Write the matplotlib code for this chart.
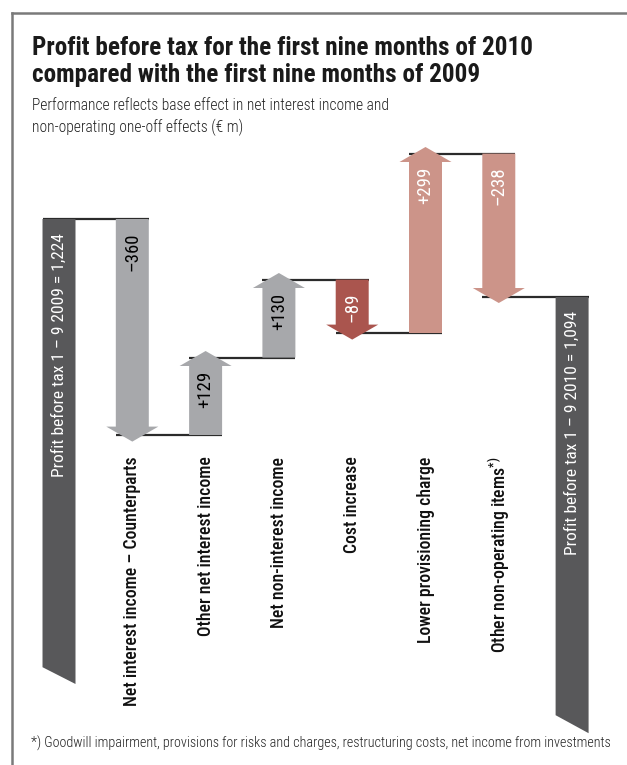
import matplotlib.pyplot as plt
from matplotlib.lines import Line2D

plt.rcParams['font.family'] = ['Roboto Condensed', 'DejaVu Sans']

# Werte in Mio. €
start_value = 1224
end_value = 1094
deltas = [-360, 129, 130, -89, 299, -238]
categories = [
    'Net interest income – Counterparts',
    'Other net interest income',
    'Net non-interest income',
    'Cost increase',
    'Lower provisioning charge',
    'Other non-operating items$^{\\mathregular{*)}}$',
]
start_label = 'Profit before tax 1 – 9 2009 = 1,224'
end_label = 'Profit before tax 1 – 9 2010 = 1,094'

c_dark = '#58585a'
c_gray = '#a7a8ab'
c_red = '#aa554e'
c_pink = '#cc9489'
arrow_colors = [c_gray, c_gray, c_gray, c_red, c_pink, c_pink]
text_colors = ['black', 'black', 'black', 'white', 'white', 'white']

fig = plt.figure(figsize=(6.27, 7.65), dpi=100)
ax = fig.add_axes([0, 0, 1, 1])
ax.set_xlim(-0.805, 7.749)
ax.set_ylim(314, 1589)
ax.set_axis_off()

w = 0.45        # Schaftbreite
hw = 0.71       # Pfeilspitze Breite
hl = 25         # Pfeilspitze Länge
over = 11       # Spitze über Zielniveau hinaus
line_kw = dict(color='#2b2b2b', lw=1.6, zorder=1, solid_capstyle='butt')


def cut_bar(x, top, bottom_left, bottom_right, label):
    ax.fill([x - w / 2, x + w / 2, x + w / 2, x - w / 2],
            [top, top, bottom_right, bottom_left], color=c_dark, lw=0, zorder=2)
    ax.text(x, top - 23, label, rotation=90, ha='center', va='top',
            color='white', fontsize=12.5, zorder=3)


def arrow(x, y0, y1, color):
    s = 1 if y1 > y0 else -1
    tip = y1 + s * over
    base = tip - s * hl
    xs = [x - w / 2, x + w / 2, x + w / 2, x + hw / 2, x, x - hw / 2, x - w / 2]
    ys = [y0, y0, base, base, tip, base, base]
    ax.fill(xs, ys, color=color, lw=0, zorder=2)


# Anfangswert (Balken unten abgeschnitten)
cut_bar(0, start_value, 477, 449, start_label)

level = start_value
for i, d in enumerate(deltas):
    x = i + 1
    new = level + d
    # Verbindungslinie vom vorherigen Balken
    ax.plot([x - 1 - w / 2, x + w / 2], [level, level], **line_kw)
    arrow(x, level, new, arrow_colors[i])
    txt = f'+{d}' if d > 0 else f'–{abs(d)}'
    ax.text(x, max(level, new) - 22, txt, rotation=90, ha='center', va='top',
            color=text_colors[i], fontsize=13.5, zorder=3)
    ax.text(x, 828, categories[i], rotation=90, ha='center', va='top',
            color='#111111', fontsize=12.8, fontweight='medium')
    level = new

n = len(deltas) + 1
ax.plot([n - 1 - w / 2, n + w / 2], [end_value, end_value], **line_kw)
cut_bar(n, end_value, 397, 367, end_label)

# Titel und Untertitel
fig.text(32 / 627, 1 - 55 / 765, 'Profit before tax for the first nine months of 2010',
         fontsize=18.2, fontweight='bold', color='#1a1a1a', va='baseline')
fig.text(32 / 627, 1 - 82 / 765, 'compared with the first nine months of 2009',
         fontsize=18.2, fontweight='bold', color='#1a1a1a', va='baseline')
fig.text(32 / 627, 1 - 110 / 765, 'Performance reflects base effect in net interest income and',
         fontsize=11.2, fontweight='light', color='#222222', va='baseline')
fig.text(32 / 627, 1 - 132 / 765, 'non-operating one-off effects (€ m)',
         fontsize=11.2, fontweight='light', color='#222222', va='baseline')

fig.text(31 / 627, 1 - 748 / 765,
         '*) Goodwill impairment, provisions for risks and charges, restructuring costs, '
         'net income from investments',
         fontsize=10.2, fontweight='light', color='#222222', va='baseline')

# Rahmen
fig.add_artist(Line2D([12 / 627, 1], [1 - 13 / 765, 1 - 13 / 765], color='#7a7a7a', lw=1.8))
fig.add_artist(Line2D([12 / 627, 12 / 627], [0, 1 - 13 / 765], color='#7a7a7a', lw=1.8))

fig.savefig('out.png', dpi=100)
